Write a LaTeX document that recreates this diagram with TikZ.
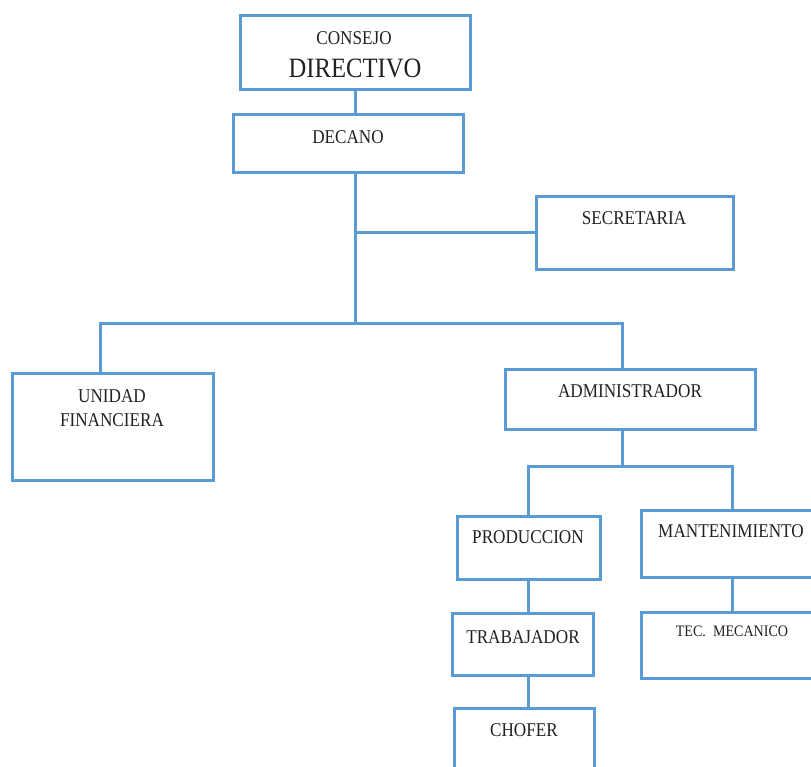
\documentclass[tikz,border=0pt]{standalone}
\usepackage{fontspec}
\setmainfont{Liberation Serif}[FakeStretch=0.88]
\definecolor{orgblue}{HTML}{5B9BD5}
\definecolor{txt}{HTML}{222222}
\begin{document}
\begin{tikzpicture}[x=1pt,y=-1pt,
  box/.style={draw=orgblue, line width=3pt, fill=white, rectangle, outer sep=0pt, inner sep=0pt},
  lbl/.style={anchor=base, inner sep=0pt, text=txt, font=\fontsize{19.5}{22}\selectfont},
  conn/.style={draw=orgblue, line width=3pt, line cap=rect}]
\useasboundingbox (0,0) rectangle (811,767);
% junction points
\coordinate (j1) at (355,323);
\coordinate (j2) at (355,233);
\coordinate (jl) at (100,323);
\coordinate (jr) at (622,323);
\coordinate (k) at (622,466);
\coordinate (kl) at (528,466);
\coordinate (kr) at (732,466);
% boxes
\node[box, minimum width=230, minimum height=74] (consejo) at (355,53) {};
\node[box, minimum width=230, minimum height=58] (decano) at (348,144) {};
\node[box, minimum width=197, minimum height=73] (secre) at (634.5,233.5) {};
\node[box, minimum width=201, minimum height=107] (unidad) at (112.5,426.5) {};
\node[box, minimum width=250, minimum height=60] (admin) at (630,399) {};
\node[box, minimum width=143, minimum height=63] (prod) at (528.5,547.5) {};
\node[box, minimum width=178, minimum height=67] (mant) at (730,543.5) {};
\node[box, minimum width=141, minimum height=62] (trab) at (522.5,644) {};
\node[box, minimum width=178, minimum height=66] (tec) at (730,645) {};
\node[box, minimum width=140, minimum height=70] (chofer) at (524,743) {};
% connectors
\draw[conn] (consejo.south -| j1) -- (decano.north -| j1);
\draw[conn] (decano.south -| j1) -- (j1);
\draw[conn] (j2) -- (secre.west |- j2);
\draw[conn] (jl) -- (jr);
\draw[conn] (jl) -- (unidad.north -| jl);
\draw[conn] (jr) -- (admin.north -| jr);
\draw[conn] (admin.south -| k) -- (k);
\draw[conn] (kl) -- (kr);
\draw[conn] (kl) -- (prod.north -| kl);
\draw[conn] (kr) -- (mant.north -| kr);
\draw[conn] (prod.south -| kl) -- (trab.north -| kl);
\draw[conn] (trab.south -| kl) -- (chofer.north -| kl);
\draw[conn] (mant.south -| kr) -- (tec.north -| kr);
% labels
\node[lbl] (t1) at (354,45) {CONSEJO};
\node[lbl, font=\fontsize{28}{30}\selectfont] (t2) at (355,78) {DIRECTIVO};
\node[lbl] (t3) at (348,144) {DECANO};
\node[lbl] (t4) at (634,225) {SECRETARIA};
\node[lbl] (t5) at (112,402) {UNIDAD};
\node[lbl] (t6) at (112,426) {FINANCIERA};
\node[lbl] (t7) at (630,397) {ADMINISTRADOR};
\node[lbl] (t8) at (528,543) {PRODUCCION};
\node[lbl] (t9) at (731,537) {MANTENIMIENTO};
\node[lbl] (t10) at (523,643) {TRABAJADOR};
\node[lbl, font=\fontsize{16}{18}\selectfont] (t11) at (732,636) {TEC.\ \ MECANICO};
\node[lbl] (t12) at (524,736) {CHOFER};
\end{tikzpicture}
\end{document}
